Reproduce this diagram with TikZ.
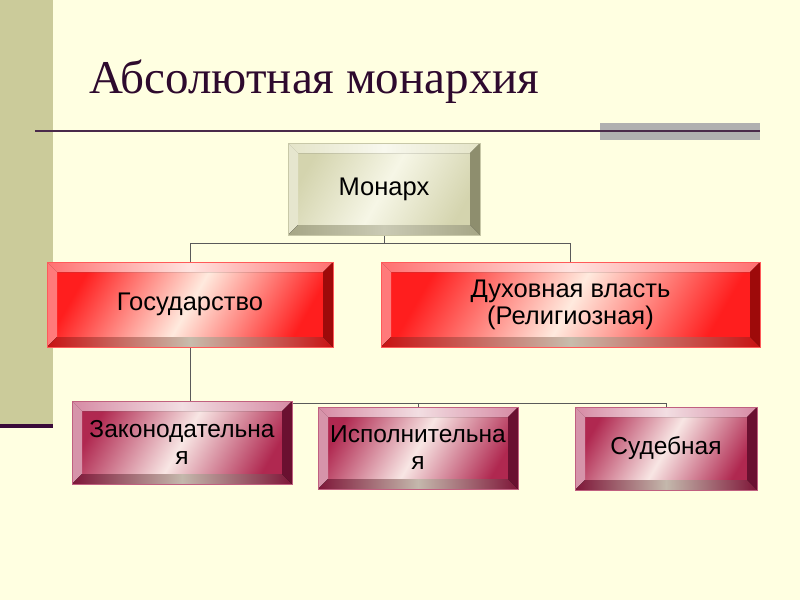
\documentclass[tikz,border=0pt]{standalone}
\usepackage{fontspec}
\setmainfont{Liberation Sans}
\newfontfamily\titlefont{Liberation Serif}
\usetikzlibrary{calc}
\pgfdeclarelayer{bg}
\pgfdeclarelayer{conns}
\pgfsetlayers{bg,conns,main}
\definecolor{bgcream}{HTML}{FFFFE1}
\definecolor{barolive}{HTML}{CBCB9A}
\definecolor{darkplum}{HTML}{3A0A3A}
\definecolor{titlecol}{HTML}{2E0A2E}
\definecolor{rulecol}{HTML}{4A2A4A}
\definecolor{graybox}{HTML}{B0B0B0}
\definecolor{conncol}{HTML}{5A5A5A}
% monarch colours
\definecolor{mFace}{HTML}{D4D4AE}
\definecolor{mFaceMid}{HTML}{F6F6E6}
\definecolor{mTop}{HTML}{E4E4C8}
\definecolor{mTopMid}{HTML}{F8F8EE}
\definecolor{mLeft}{HTML}{E6E6CE}
\definecolor{mRight}{HTML}{8E8E6E}
\definecolor{mBot}{HTML}{A6A686}
\definecolor{mBotMid}{HTML}{CACAB4}
\definecolor{mBorder}{HTML}{C8C8A8}
% red colours
\definecolor{rFace}{HTML}{FF1E1E}
\definecolor{rFaceMid}{HTML}{FFEADE}
\definecolor{rTop}{HTML}{FF7070}
\definecolor{rTopMid}{HTML}{FFE4E0}
\definecolor{rLeft}{HTML}{FF7A7A}
\definecolor{rRight}{HTML}{9E0A0A}
\definecolor{rBot}{HTML}{C81212}
\definecolor{rBotMid}{HTML}{C8BCAC}
\definecolor{rBorder}{HTML}{FF5A5A}
% purple colours
\definecolor{pFace}{HTML}{B02850}
\definecolor{pFaceMid}{HTML}{F8E6E4}
\definecolor{pTop}{HTML}{D68AA4}
\definecolor{pTopMid}{HTML}{F2DEE2}
\definecolor{pLeft}{HTML}{D694AA}
\definecolor{pRight}{HTML}{6A1030}
\definecolor{pBot}{HTML}{7E1638}
\definecolor{pBotMid}{HTML}{C4B8AC}
\definecolor{pBorder}{HTML}{C06080}
\newcommand{\bevelpic}[8]{%
  \coordinate (bNW) at (path picture bounding box.north west);
  \coordinate (bNE) at (path picture bounding box.north east);
  \coordinate (bSW) at (path picture bounding box.south west);
  \coordinate (bSE) at (path picture bounding box.south east);
  \coordinate (iNW) at ($(bNW)+(10pt,-10pt)$);
  \coordinate (iNE) at ($(bNE)+(-10pt,-10pt)$);
  \coordinate (iSW) at ($(bSW)+(10pt,10pt)$);
  \coordinate (iSE) at ($(bSE)+(-10pt,10pt)$);
  \fill[left color=#1, right color=#1, middle color=#2, shading angle=60] (bNW) rectangle (bSE);
  \fill[left color=#3, right color=#3, middle color=#4] (bNW) -- (bNE) -- (iNE) -- (iNW) -- cycle;
  \fill[#5] (bNW) -- (iNW) -- (iSW) -- (bSW) -- cycle;
  \fill[#6] (bNE) -- (bSE) -- (iSE) -- (iNE) -- cycle;
  \fill[left color=#7, right color=#7, middle color=#8] (bSW) -- (bSE) -- (iSE) -- (iSW) -- cycle;
}
\tikzset{
  boxbase/.style={inner sep=0pt, align=center, font=\fontsize{25.5}{27}\selectfont, text=black, line width=0.8pt},
  monarchbox/.style={boxbase, draw=mBorder,
    path picture={\bevelpic{mFace}{mFaceMid}{mTop}{mTopMid}{mLeft}{mRight}{mBot}{mBotMid}}},
  redbox/.style={boxbase, draw=rBorder,
    path picture={\bevelpic{rFace}{rFaceMid}{rTop}{rTopMid}{rLeft}{rRight}{rBot}{rBotMid}}},
  purplebox/.style={boxbase, draw=pBorder, font=\fontsize{24.5}{27}\selectfont,
    path picture={\bevelpic{pFace}{pFaceMid}{pTop}{pTopMid}{pLeft}{pRight}{pBot}{pBotMid}}},
  conn/.style={draw=conncol, line width=0.9pt},
}
\begin{document}
\begin{tikzpicture}[x=1pt, y=-1pt]
  \begin{pgfonlayer}{bg}
    \fill[bgcream] (0,0) rectangle (800,600);
    \fill[barolive] (0,0) rectangle (53,424);
    \fill[darkplum] (0,424) rectangle (53,428);
    \fill[graybox] (600,123) rectangle (760,140);
    \draw[rulecol, line width=2pt] (35,131) -- (760,131);
  \end{pgfonlayer}
  \useasboundingbox (0,0) rectangle (800,600);
  % title
  \node[anchor=base west, inner sep=0pt, text=titlecol, font=\titlefont\fontsize{47}{50}\selectfont] (title) at (89,93) {Абсолютная монархия};
  % boxes
  \node[monarchbox, minimum width=192pt, minimum height=92pt] (mon) at (384,189) {Монарх};
  \node[redbox, minimum width=286pt, minimum height=85pt] (gos) at (190,304.5) {Государство};
  \node[redbox, minimum width=379pt, minimum height=85pt] (duh) at (570.5,304.5) {Духовная власть\\(Религиозная)};
  \node[purplebox, minimum width=220pt, minimum height=83pt] (zak) at (182,442.5) {Законодательна\\я};
  \node[purplebox, minimum width=200pt, minimum height=82pt] (isp) at (418,448) {Исполнительна\\я};
  \node[purplebox, minimum width=182pt, minimum height=83pt] (sud) at (666,448.5) {Судебная};
  % connectors (on a layer under the boxes)
  \begin{pgfonlayer}{conns}
    \coordinate (j1) at ($(mon.south)+(0,8)$);
    \coordinate (j2) at ($(gos.south)+(0,56)$);
    \draw[conn] (mon.south) -- (j1) -| (gos.north);
    \draw[conn] (j1) -| (duh.north);
    \draw[conn] (gos.south) -- (j2) -| (isp.north);
    \draw[conn] (j2) -| (sud.north);
    \draw[conn] (j2) -| (zak.north);
  \end{pgfonlayer}
\end{tikzpicture}
\end{document}
